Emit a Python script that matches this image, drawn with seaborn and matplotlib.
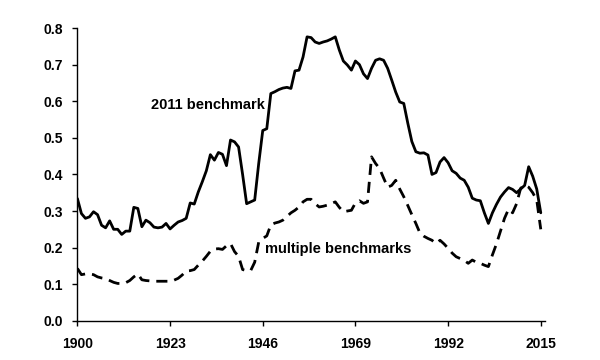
import numpy as np
import pandas as pd
import matplotlib
matplotlib.use("Agg")
import matplotlib.pyplot as plt
import seaborn as sns

years = list(range(1900, 2016))

benchmark_2011 = [
    0.334, 0.293, 0.280, 0.284, 0.298, 0.290, 0.261, 0.254, 0.273, 0.250,
    0.250, 0.236, 0.245, 0.245, 0.310, 0.307, 0.257, 0.275, 0.268, 0.256,
    0.254, 0.256, 0.266, 0.251, 0.261, 0.270, 0.274, 0.280, 0.322, 0.319,
    0.352, 0.380, 0.410, 0.454, 0.439, 0.460, 0.455, 0.424, 0.494, 0.489,
    0.475, 0.400, 0.320, 0.325, 0.330, 0.430, 0.520, 0.525, 0.621, 0.626,
    0.632, 0.636, 0.638, 0.635, 0.683, 0.685, 0.721, 0.776, 0.774, 0.762,
    0.758, 0.762, 0.765, 0.770, 0.776, 0.740, 0.710, 0.699, 0.685, 0.710,
    0.700, 0.675, 0.662, 0.690, 0.712, 0.716, 0.712, 0.690, 0.658, 0.625,
    0.598, 0.594, 0.540, 0.490, 0.462, 0.458, 0.459, 0.453, 0.400, 0.405,
    0.434, 0.446, 0.432, 0.410, 0.403, 0.390, 0.384, 0.365, 0.335, 0.330,
    0.328, 0.295, 0.266, 0.295, 0.318, 0.338, 0.352, 0.364, 0.359, 0.350,
    0.360, 0.370, 0.421, 0.395, 0.360, 0.295,
]

multiple_benchmarks = [
    0.143, 0.126, 0.128, 0.128, 0.126, 0.120, 0.117, 0.115, 0.110, 0.105,
    0.102, 0.102, 0.104, 0.110, 0.120, 0.128, 0.112, 0.110, 0.109, 0.108,
    0.108, 0.108, 0.108, 0.108, 0.111, 0.116, 0.125, 0.136, 0.137, 0.140,
    0.152, 0.163, 0.176, 0.190, 0.196, 0.197, 0.195, 0.205, 0.211, 0.189,
    0.176, 0.140, 0.137, 0.137, 0.160, 0.215, 0.225, 0.232, 0.262, 0.267,
    0.270, 0.275, 0.285, 0.295, 0.302, 0.311, 0.325, 0.332, 0.332, 0.320,
    0.311, 0.313, 0.316, 0.320, 0.325, 0.310, 0.298, 0.300, 0.302, 0.322,
    0.328, 0.321, 0.325, 0.448, 0.430, 0.416, 0.390, 0.365, 0.370, 0.384,
    0.360, 0.339, 0.315, 0.290, 0.266, 0.240, 0.231, 0.225, 0.220, 0.211,
    0.220, 0.210, 0.198, 0.185, 0.175, 0.170, 0.165, 0.157, 0.166, 0.160,
    0.157, 0.152, 0.148, 0.180, 0.210, 0.245, 0.280, 0.305, 0.295, 0.320,
    0.362, 0.371, 0.365, 0.350, 0.330, 0.250,
]

x_ticks = [1900, 1923, 1946, 1969, 1992, 2015]
y_ticks = [0.0, 0.1, 0.2, 0.3, 0.4, 0.5, 0.6, 0.7, 0.8]

sns.set_style("ticks")
plt.rcParams['font.family'] = ['Liberation Sans', 'DejaVu Sans']
plt.rcParams['font.weight'] = 'bold'

fig = plt.figure(figsize=(6, 3.6), dpi=100)
ax = fig.add_axes([0.129, 0.109, 0.779, 0.813])

df = pd.DataFrame({"year": years, "b2011": benchmark_2011, "multi": multiple_benchmarks})
sns.lineplot(data=df, x="year", y="b2011", ax=ax, color="black", linewidth=2.0)
sns.lineplot(data=df, x="year", y="multi", ax=ax, color="black", linewidth=2.0,
             dashes=False)
ax.lines[-1].set_dashes([4, 2.5])

ax.set_xlim(1900, 2016)
ax.set_ylim(0, 0.8)
ax.set_xticks(x_ticks)
ax.set_yticks(y_ticks)
ax.set_yticklabels([f"{v:.1f}" for v in y_ticks])
ax.set_xlabel("")
ax.set_ylabel("")
for s in ["top", "right"]:
    ax.spines[s].set_visible(False)
for s in ["left", "bottom"]:
    ax.spines[s].set_color("black")
    ax.spines[s].set_linewidth(1.0)
ax.tick_params(axis="both", colors="black", labelsize=10, length=3.5, width=1)
ax.tick_params(axis="x", pad=8)
ax.tick_params(axis="y", pad=7)
for lab in ax.get_xticklabels() + ax.get_yticklabels():
    lab.set_fontweight("bold")

ax.text(1918.2, 0.580, "2011 benchmark", fontsize=10.5, fontweight="bold",
        va="baseline", ha="left", color="black")
ax.text(1946.6, 0.186, "multiple benchmarks", fontsize=10.5, fontweight="bold",
        va="baseline", ha="left", color="black")

fig.savefig("out.png", dpi=100)
